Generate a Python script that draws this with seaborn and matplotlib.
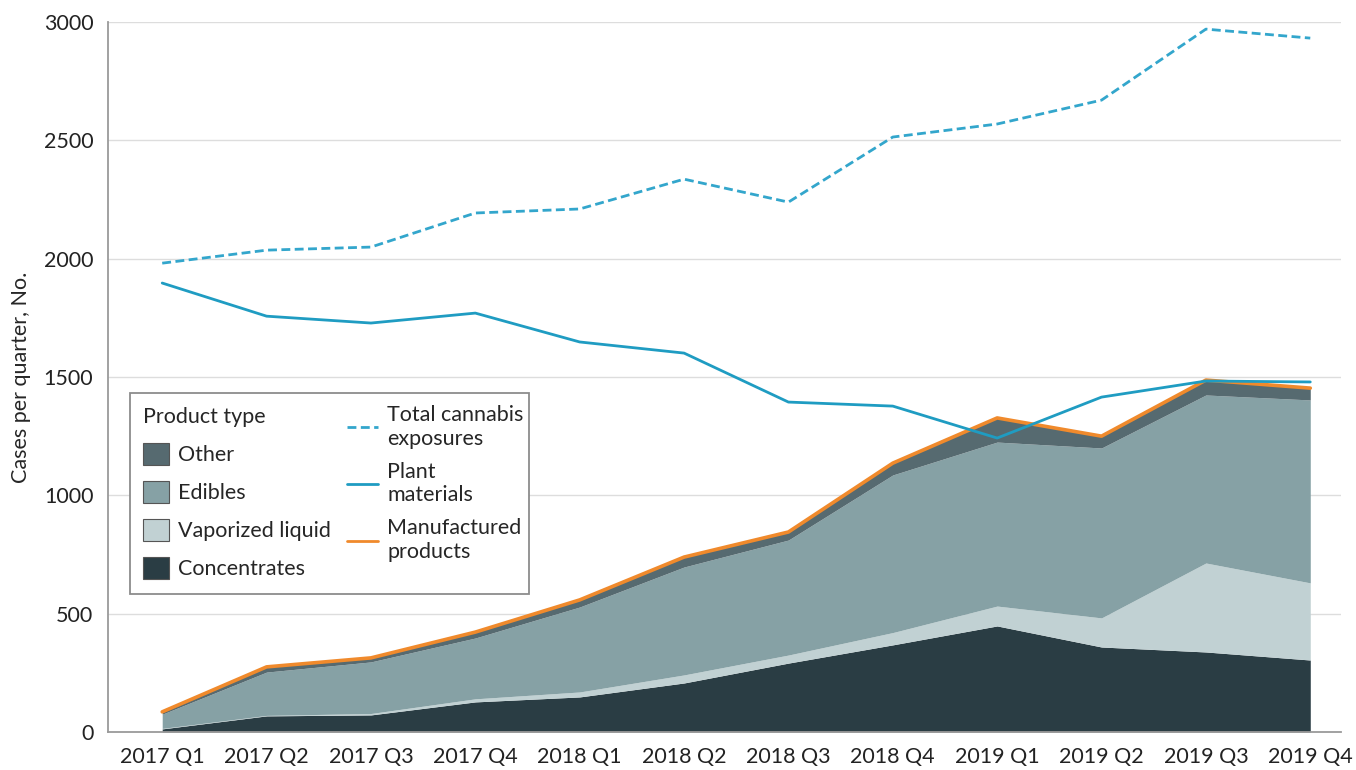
import numpy as np
import pandas as pd
import matplotlib
matplotlib.use("Agg")
import matplotlib.pyplot as plt
import matplotlib.patches as mpatches
from matplotlib.lines import Line2D
import seaborn as sns

# ==============================
# DATA (cases per quarter)
# ==============================

quarters = ["2017 Q1", "2017 Q2", "2017 Q3", "2017 Q4",
            "2018 Q1", "2018 Q2", "2018 Q3", "2018 Q4",
            "2019 Q1", "2019 Q2", "2019 Q3", "2019 Q4"]

concentrates = [13, 68, 72, 127, 148, 207, 291, 368, 448, 359, 338, 304]
vaporized = [2, 2, 6, 13, 21, 34, 34, 52, 84, 123, 376, 326]
edibles = [60, 183, 218, 257, 359, 456, 486, 666, 693, 718, 710, 773]
other = [10, 22, 17, 25, 30, 42, 34, 50, 102, 50, 63, 50]

manufactured = [85, 275, 313, 422, 558, 739, 845, 1136, 1327, 1250, 1487, 1453]
plant = [1897, 1757, 1728, 1770, 1648, 1601, 1394, 1377, 1242, 1415, 1483, 1479]
total = [1981, 2036, 2049, 2193, 2210, 2336, 2239, 2514, 2569, 2670, 2970, 2932]

# ==============================
# STYLE
# ==============================

C_CONC = "#2a3d44"
C_VAP = "#c1d1d3"
C_EDI = "#86a1a5"
C_OTH = "#566a70"
C_ORANGE = "#f08a2c"
C_BLUE = "#1f9cc2"
C_DASH = "#33a6cc"
C_AXIS = "#9a9a9a"
FS = 15.5

sns.set_style("white")
plt.rcParams["font.family"] = ["Lato", "DejaVu Sans"]

df = pd.DataFrame({
    "pos": np.arange(len(quarters)),
    "quarter": quarters,
    "manufactured": manufactured,
    "plant": plant,
    "total": total,
})

fig = plt.figure(figsize=(13.56, 7.70), dpi=100)
ax = fig.add_axes([0.0796, 0.0494, 0.909, 0.922])

# ---- stacked product types
ax.stackplot(df["pos"], concentrates, vaporized, edibles, other,
             colors=[C_CONC, C_VAP, C_EDI, C_OTH], linewidth=0, zorder=2)

# ---- lines
sns.lineplot(data=df, x="pos", y="manufactured", ax=ax, color=C_ORANGE,
             linewidth=2.6, zorder=3)
sns.lineplot(data=df, x="pos", y="plant", ax=ax, color=C_BLUE,
             linewidth=2.0, zorder=4)
sns.lineplot(data=df, x="pos", y="total", ax=ax, color=C_DASH,
             linewidth=2.0, linestyle=(0, (3.2, 1.6)), zorder=4)

# ---- axes
ax.set_xlim(-0.52, 11.29)
ax.set_ylim(0, 3000)
ax.set_yticks(range(0, 3001, 500))
ax.set_xticks(df["pos"])
ax.set_xticklabels(quarters)
ax.set_xlabel("")
ax.set_ylabel("Cases per quarter, No.", fontsize=FS, labelpad=9)
ax.tick_params(axis="both", labelsize=FS, colors="#222222",
               length=7, width=1.0, direction="out")
ax.tick_params(axis="both", color=C_AXIS)
ax.yaxis.grid(True, color="#dddddd", linewidth=1.0, zorder=0)
ax.set_axisbelow(True)
for s in ["top", "right"]:
    ax.spines[s].set_visible(False)
for s in ["left", "bottom"]:
    ax.spines[s].set_color(C_AXIS)
    ax.spines[s].set_linewidth(1.3)

# ---- legend (frame + two columns)
frame = mpatches.Rectangle((0.0178, 0.194), 0.324, 0.283, transform=ax.transAxes,
                           facecolor="white", edgecolor="#8c8c8c", linewidth=1.3,
                           zorder=5)
ax.add_patch(frame)

patch_handles = [mpatches.Patch(facecolor=c, edgecolor="#555555", linewidth=0.8)
                 for c in [C_OTH, C_EDI, C_VAP, C_CONC]]
leg1 = ax.legend(patch_handles, ["Other", "Edibles", "Vaporized liquid", "Concentrates"],
                 title="Product type", alignment="left", loc="upper left",
                 bbox_to_anchor=(0.0284, 0.458), borderaxespad=0, borderpad=0,
                 frameon=False, fontsize=FS, title_fontsize=FS,
                 handlelength=1.2, handleheight=1.2, handletextpad=0.45,
                 labelspacing=0.73)
leg1._legend_handle_box.sep = 14
leg1.set_zorder(6)
ax.add_artist(leg1)

line_handles = [Line2D([], [], color=C_DASH, lw=2.0, linestyle=(0, (3.2, 1.6))),
                Line2D([], [], color=C_BLUE, lw=2.0),
                Line2D([], [], color=C_ORANGE, lw=2.0)]
leg2 = ax.legend(line_handles, ["Total cannabis\nexposures", "Plant\nmaterials",
                                "Manufactured\nproducts"],
                 loc="upper left", bbox_to_anchor=(0.194, 0.460),
                 borderaxespad=0, borderpad=0, frameon=False, fontsize=FS,
                 handlelength=1.45, handletextpad=0.42, labelspacing=0.62)
leg2.set_zorder(6)
for t in leg2.get_texts():
    t.set_linespacing(1.2)

fig.savefig("out.png", dpi=100)
